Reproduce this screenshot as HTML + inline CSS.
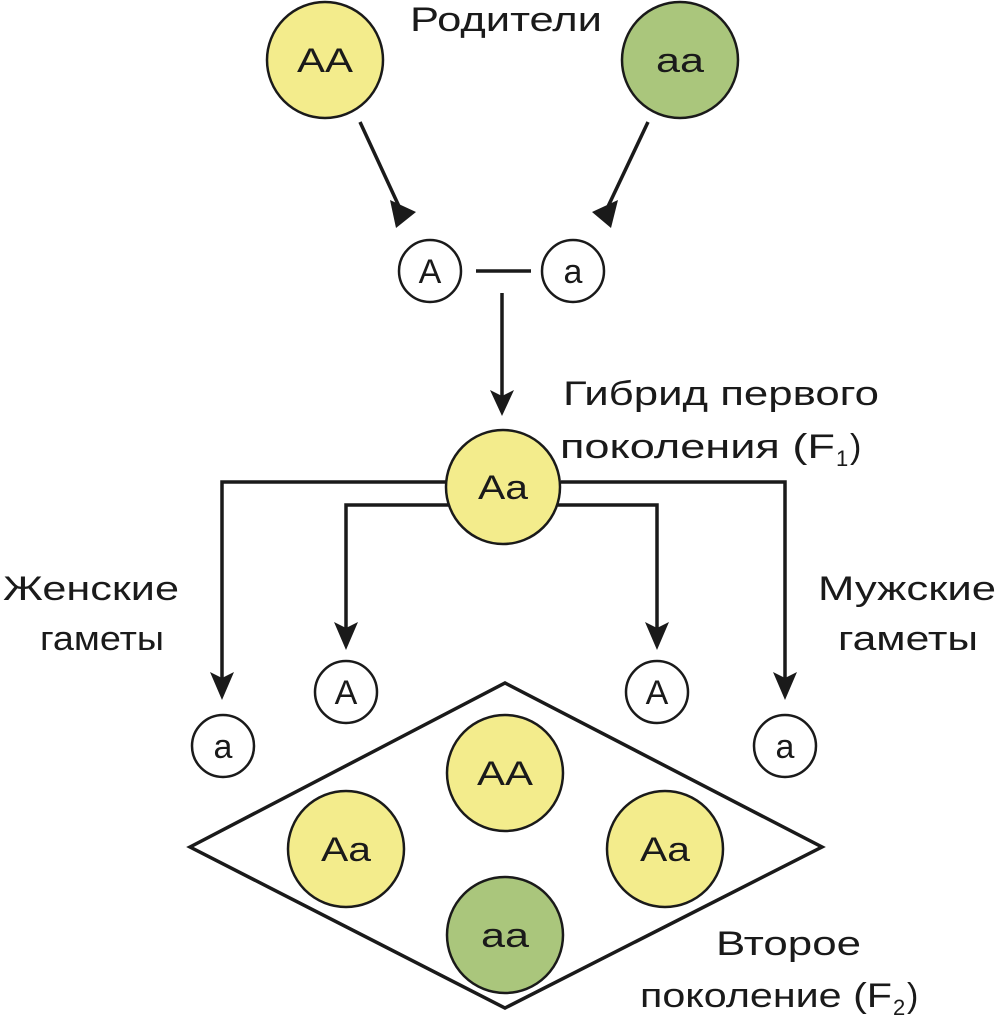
<!DOCTYPE html>
<html><head><meta charset="utf-8"><style>html,body{margin:0;padding:0;background:#fff}svg{display:block}</style></head>
<body>
<svg width="1000" height="1024" viewBox="0 0 1000 1024" xmlns="http://www.w3.org/2000/svg" font-family="Liberation Sans, Noto Sans CJK SC, sans-serif">
<defs>
<marker id="ar" markerWidth="10" markerHeight="12" refX="9" refY="6" orient="auto" markerUnits="userSpaceOnUse" viewBox="0 0 10 12">
</marker>
</defs>
<g stroke="#1a1a1a" stroke-width="3.5" fill="none">
<!-- parent arrows -->
<line x1="360" y1="122" x2="403" y2="215"/>
<line x1="648" y1="122" x2="604" y2="215"/>
<line x1="476" y1="271" x2="531" y2="271"/>
<line x1="502" y1="293" x2="502" y2="400"/>
<!-- F1 branches -->
<polyline points="446,482 222,482 222,680"/>
<polyline points="450,505 346,505 346,630"/>
<polyline points="556,505 657,505 657,630"/>
<polyline points="561,482 785,482 785,680"/>
<polygon points="190,847 505,683 822,847 505,1008" stroke-width="3.5"/>
</g>
<g fill="#1a1a1a">
<polygon points="396,228 390,200 416,212"/>
<polygon points="611,228 592,212 618,200"/>
<polygon points="502,416 490,390 502,396 514,390"/>
<polygon points="222,700 210,672 222,678 234,672"/>
<polygon points="346,650 334,622 346,628 358,622"/>
<polygon points="657,650 645,622 657,628 669,622"/>
<polygon points="785,700 773,672 785,678 797,672"/>
</g>
<g stroke="#1a1a1a" stroke-width="2.5">
<circle cx="325" cy="60" r="58" fill="#f3ec8c"/>
<circle cx="680" cy="60" r="58" fill="#aac67c"/>
<circle cx="503" cy="487" r="57" fill="#f3ec8c"/>
<circle cx="505" cy="773" r="58" fill="#f3ec8c"/>
<circle cx="346" cy="849" r="58" fill="#f3ec8c"/>
<circle cx="665" cy="849" r="58" fill="#f3ec8c"/>
<circle cx="505" cy="935" r="58" fill="#aac67c"/>
<circle cx="430" cy="271" r="31" fill="#fff"/>
<circle cx="573" cy="271" r="31" fill="#fff"/>
<circle cx="223" cy="746" r="31" fill="#fff"/>
<circle cx="346" cy="692" r="31" fill="#fff"/>
<circle cx="657" cy="692" r="31" fill="#fff"/>
<circle cx="785" cy="746" r="31" fill="#fff"/>
</g>
<g fill="#1a1a1a" font-size="34" text-anchor="middle">
<text x="325" y="72" textLength="56" lengthAdjust="spacingAndGlyphs">AA</text>
<text x="680" y="72" textLength="48" lengthAdjust="spacingAndGlyphs">aa</text>
<text x="503" y="499" textLength="50" lengthAdjust="spacingAndGlyphs">Aa</text>
<text x="505" y="785" textLength="56" lengthAdjust="spacingAndGlyphs">AA</text>
<text x="346" y="861" textLength="50" lengthAdjust="spacingAndGlyphs">Aa</text>
<text x="665" y="861" textLength="50" lengthAdjust="spacingAndGlyphs">Aa</text>
<text x="505" y="947" textLength="48" lengthAdjust="spacingAndGlyphs">aa</text>
<text x="430" y="283">A</text>
<text x="573" y="283">a</text>
<text x="223" y="758">a</text>
<text x="346" y="704">A</text>
<text x="657" y="704">A</text>
<text x="785" y="758">a</text>
</g>
<g fill="#1a1a1a" font-size="34">
<text x="410" y="31" textLength="192" lengthAdjust="spacingAndGlyphs">Родители</text>
<text x="563" y="405" textLength="316" lengthAdjust="spacingAndGlyphs">Гибрид первого</text>
<text x="560" y="458" textLength="275" lengthAdjust="spacingAndGlyphs">поколения (F</text><text x="836" y="466" font-size="22">1</text><text x="850" y="458">)</text>
<text x="3" y="600" textLength="176" lengthAdjust="spacingAndGlyphs">Женские</text>
<text x="40" y="650" textLength="124" lengthAdjust="spacingAndGlyphs">гаметы</text>
<text x="818" y="600" textLength="178" lengthAdjust="spacingAndGlyphs">Мужские</text>
<text x="838" y="650" textLength="140" lengthAdjust="spacingAndGlyphs">гаметы</text>
<text x="716" y="955" textLength="145" lengthAdjust="spacingAndGlyphs">Второе</text>
<text x="640" y="1007" textLength="252" lengthAdjust="spacingAndGlyphs">поколение (F</text><text x="893" y="1015" font-size="22">2</text><text x="907" y="1007">)</text>
</g>
</svg>
</body></html>
